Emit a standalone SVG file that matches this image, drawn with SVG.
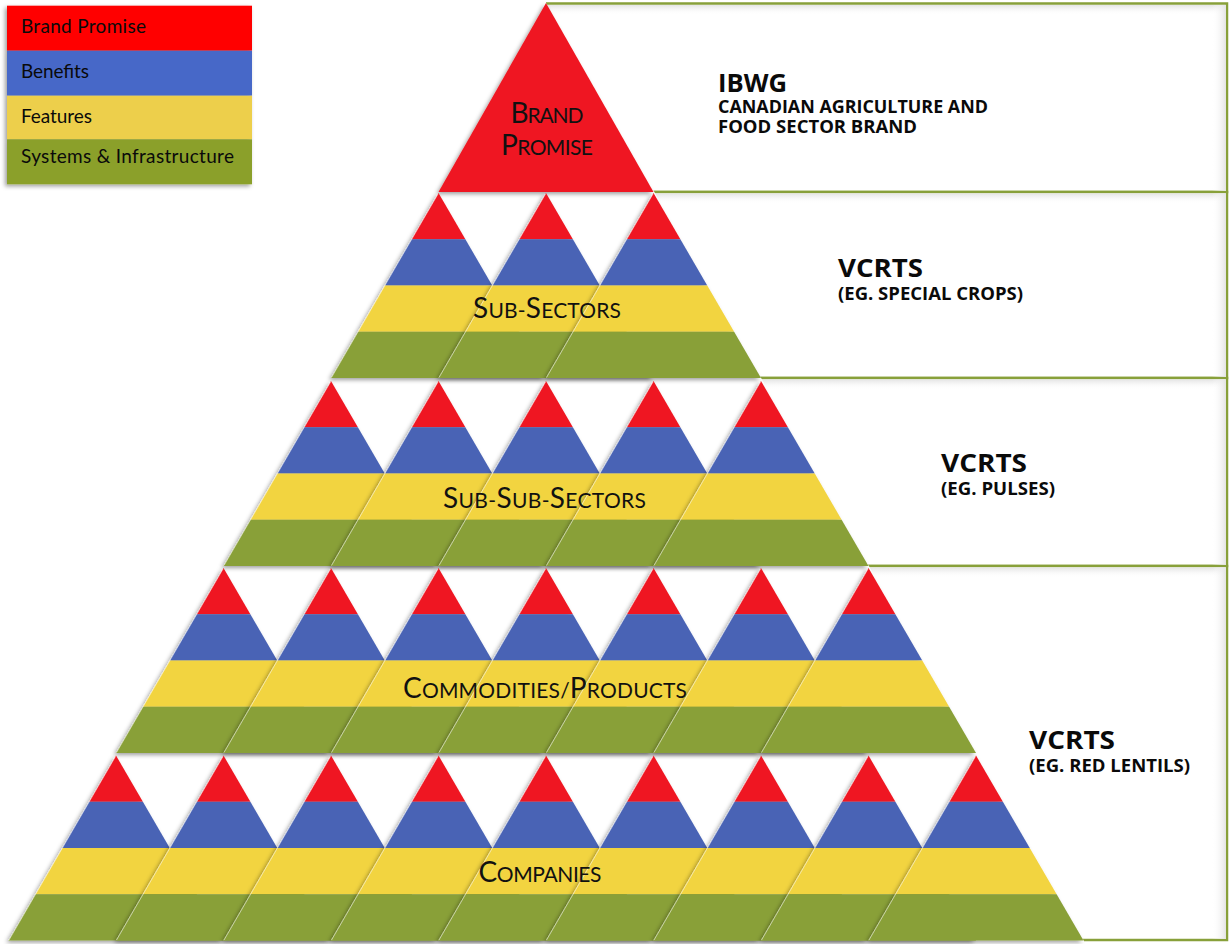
<svg xmlns="http://www.w3.org/2000/svg" xmlns:xlink="http://www.w3.org/1999/xlink" width="1230" height="944" viewBox="0 0 1230 944">
  <style>
    .red { fill: #EF1620; }
    .blue { fill: #4A64B5; }
    .yellow { fill: #F2D440; }
    .green { fill: #89A038; }
    .edge { stroke: #ffffff; stroke-opacity: 0.55; stroke-width: 1; fill: none; }
    .box { fill: #ffffff; stroke: #88A03A; stroke-width: 2.5; }
    .lbl { font-family: Lato, "Open Sans", "Liberation Sans", sans-serif; font-size: 21px; fill: #111111; }
    .cap { font-size: 28px; }
    .legend-text { font-family: Lato, "Open Sans", "Liberation Sans", sans-serif; font-size: 19px; fill: #0a0a0a; }
    .title { font-family: "Open Sans", Lato, "Liberation Sans", sans-serif; font-weight: 700; font-size: 25px; fill: #0a0a0a; }
    .sub { font-family: "Open Sans", Lato, "Liberation Sans", sans-serif; font-weight: 700; font-size: 17px; fill: #0a0a0a; }
  </style>
  <defs>
    <filter id="shadow" x="-20%" y="-20%" width="140%" height="140%">
      <feDropShadow dx="-2" dy="2" stdDeviation="2.2" flood-color="#000000" flood-opacity="0.38"/>
    </filter>
    <linearGradient id="shadeTop" x1="0" y1="0" x2="0" y2="1">
      <stop offset="0" stop-color="#e4e4e4"/>
      <stop offset="1" stop-color="#ffffff" stop-opacity="0"/>
    </linearGradient>
    <linearGradient id="shadeRight" x1="0" y1="0" x2="1" y2="0">
      <stop offset="0" stop-color="#ffffff" stop-opacity="0"/>
      <stop offset="1" stop-color="#e4e4e4"/>
    </linearGradient>
    <!-- one striped triangle: apex at origin, height 185, half base 107.5 -->
    <g id="tri">
      <polygon class="red" points="0,0 26.875,46.25 -26.875,46.25"/>
      <polygon class="blue" points="-26.875,46.25 26.875,46.25 53.75,92.5 -53.75,92.5"/>
      <polygon class="yellow" points="-53.75,92.5 53.75,92.5 80.625,138.75 -80.625,138.75"/>
      <polygon class="green" points="-80.625,138.75 80.625,138.75 107.5,185 -107.5,185"/>
      <line class="edge" x1="-0.5" y1="1" x2="-107" y2="184.5"/>
    </g>
  </defs>

  <rect width="1230" height="944" fill="#ffffff"/>

  <!-- description panels to the right of the pyramid -->
  <g id="panels">
    <rect class="box" x="540" y="3.5" width="687" height="188.5"/>
    <rect class="box" x="540" y="192" width="687" height="186"/>
    <rect class="box" x="540" y="378" width="687" height="188"/>
    <rect class="box" x="540" y="566" width="687" height="374"/>
    <g>
      <rect x="540" y="5" width="686" height="10" fill="url(#shadeTop)"/>
      <rect x="540" y="193.5" width="686" height="10" fill="url(#shadeTop)"/>
      <rect x="540" y="379.5" width="686" height="10" fill="url(#shadeTop)"/>
      <rect x="540" y="567.5" width="686" height="10" fill="url(#shadeTop)"/>
      <rect x="1212" y="5" width="14" height="186" fill="url(#shadeRight)"/>
      <rect x="1212" y="193.5" width="14" height="183.5" fill="url(#shadeRight)"/>
      <rect x="1212" y="379.5" width="14" height="185.5" fill="url(#shadeRight)"/>
      <rect x="1212" y="567.5" width="14" height="371.5" fill="url(#shadeRight)"/>
    </g>
    <!-- pyramid footprint hides the panel edges behind it -->
    <polygon fill="#ffffff" points="530,0 546,0 546,3 1084,941 1084,944 530,944"/>
  </g>

  <!-- legend -->
  <g id="legend" filter="url(#shadow)">
    <rect x="7" y="5.7" width="245" height="45" fill="#FF0000"/>
    <rect x="7" y="50.7" width="245" height="45" fill="#4767C8"/>
    <rect x="7" y="95.7" width="245" height="43.6" fill="#EDCF4C"/>
    <rect x="7" y="139.3" width="245" height="45" fill="#8BA02B"/>
  </g>
  <g id="legend-labels">
    <text class="legend-text" x="21" y="33.3" textLength="125">Brand Promise</text>
    <text class="legend-text" x="21" y="77.7" textLength="68">Benefits</text>
    <text class="legend-text" x="21" y="122.7" textLength="71">Features</text>
    <text class="legend-text" x="21" y="163.3" textLength="213">Systems &amp; Infrastructure</text>
  </g>

  <!-- level 1: brand promise -->
  <g id="brand-promise">
    <polygon class="red" points="546,3 438.5,192 653.5,192" filter="url(#shadow)"/>
    <text class="lbl" x="547" y="123" text-anchor="middle" textLength="73"><tspan class="cap">B</tspan>RAND</text>
    <text class="lbl" x="547" y="155" text-anchor="middle" textLength="92"><tspan class="cap">P</tspan>ROMISE</text>
  </g>

  <!-- level 2: sub-sectors -->
  <g id="sub-sectors">
    <use xlink:href="#tri" href="#tri" x="438.5" y="193" filter="url(#shadow)"/>
    <use xlink:href="#tri" href="#tri" x="546" y="193" filter="url(#shadow)"/>
    <use xlink:href="#tri" href="#tri" x="653.5" y="193" filter="url(#shadow)"/>
    <text class="lbl" x="547" y="318" text-anchor="middle" textLength="148"><tspan class="cap">S</tspan>UB-<tspan class="cap">S</tspan>ECTORS</text>
  </g>

  <!-- level 3: sub-sub-sectors -->
  <g id="sub-sub-sectors">
    <use xlink:href="#tri" href="#tri" x="331" y="381" filter="url(#shadow)"/>
    <use xlink:href="#tri" href="#tri" x="438.5" y="381" filter="url(#shadow)"/>
    <use xlink:href="#tri" href="#tri" x="546" y="381" filter="url(#shadow)"/>
    <use xlink:href="#tri" href="#tri" x="653.5" y="381" filter="url(#shadow)"/>
    <use xlink:href="#tri" href="#tri" x="761" y="381" filter="url(#shadow)"/>
    <text class="lbl" x="544.5" y="508" text-anchor="middle" textLength="203"><tspan class="cap">S</tspan>UB-<tspan class="cap">S</tspan>UB-<tspan class="cap">S</tspan>ECTORS</text>
  </g>

  <!-- level 4: commodities / products -->
  <g id="commodities-products">
    <use xlink:href="#tri" href="#tri" x="223.5" y="568" filter="url(#shadow)"/>
    <use xlink:href="#tri" href="#tri" x="331" y="568" filter="url(#shadow)"/>
    <use xlink:href="#tri" href="#tri" x="438.5" y="568" filter="url(#shadow)"/>
    <use xlink:href="#tri" href="#tri" x="546" y="568" filter="url(#shadow)"/>
    <use xlink:href="#tri" href="#tri" x="653.5" y="568" filter="url(#shadow)"/>
    <use xlink:href="#tri" href="#tri" x="761" y="568" filter="url(#shadow)"/>
    <use xlink:href="#tri" href="#tri" x="868.5" y="568" filter="url(#shadow)"/>
    <text class="lbl" x="545" y="698" text-anchor="middle" textLength="284"><tspan class="cap">C</tspan>OMMODITIES/<tspan class="cap">P</tspan>RODUCTS</text>
  </g>

  <!-- level 5: companies -->
  <g id="companies">
    <use xlink:href="#tri" href="#tri" x="116" y="755.5" filter="url(#shadow)"/>
    <use xlink:href="#tri" href="#tri" x="223.5" y="755.5" filter="url(#shadow)"/>
    <use xlink:href="#tri" href="#tri" x="331" y="755.5" filter="url(#shadow)"/>
    <use xlink:href="#tri" href="#tri" x="438.5" y="755.5" filter="url(#shadow)"/>
    <use xlink:href="#tri" href="#tri" x="546" y="755.5" filter="url(#shadow)"/>
    <use xlink:href="#tri" href="#tri" x="653.5" y="755.5" filter="url(#shadow)"/>
    <use xlink:href="#tri" href="#tri" x="761" y="755.5" filter="url(#shadow)"/>
    <use xlink:href="#tri" href="#tri" x="868.5" y="755.5" filter="url(#shadow)"/>
    <use xlink:href="#tri" href="#tri" x="976" y="755.5" filter="url(#shadow)"/>
    <text class="lbl" x="540" y="882" text-anchor="middle" textLength="123"><tspan class="cap">C</tspan>OMPANIES</text>
  </g>

  <!-- panel captions -->
  <g id="caption-ibwg">
    <text class="title" x="718" y="92" textLength="69" lengthAdjust="spacingAndGlyphs">IBWG</text>
    <text class="sub" x="718" y="113" textLength="270" lengthAdjust="spacingAndGlyphs">CANADIAN AGRICULTURE AND</text>
    <text class="sub" x="718" y="133" textLength="199" lengthAdjust="spacingAndGlyphs">FOOD SECTOR BRAND</text>
  </g>
  <g id="caption-special-crops">
    <text class="title" x="838" y="277" textLength="85" lengthAdjust="spacingAndGlyphs">VCRTS</text>
    <text class="sub" x="838" y="300" textLength="185" lengthAdjust="spacingAndGlyphs">(EG. SPECIAL CROPS)</text>
  </g>
  <g id="caption-pulses">
    <text class="title" x="941" y="472" textLength="86" lengthAdjust="spacingAndGlyphs">VCRTS</text>
    <text class="sub" x="941" y="495" textLength="114" lengthAdjust="spacingAndGlyphs">(EG. PULSES)</text>
  </g>
  <g id="caption-red-lentils">
    <text class="title" x="1029" y="749" textLength="86" lengthAdjust="spacingAndGlyphs">VCRTS</text>
    <text class="sub" x="1029" y="772" textLength="161" lengthAdjust="spacingAndGlyphs">(EG. RED LENTILS)</text>
  </g>

  <!-- no connectors in this figure -->
  <g id="connectors"/>
</svg>
